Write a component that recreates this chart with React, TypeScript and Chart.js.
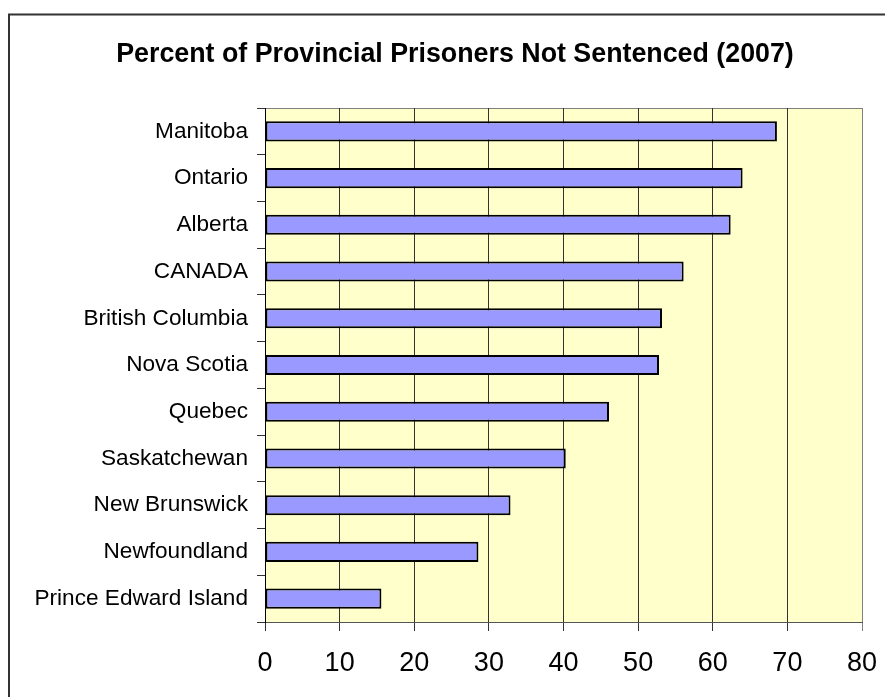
import React, { useEffect, useRef } from "react";
import { Chart, registerables } from "chart.js";

Chart.register(...registerables);

const TITLE = "Percent of Provincial Prisoners Not Sentenced (2007)";
const provinces = [
  "Manitoba",
  "Ontario",
  "Alberta",
  "CANADA",
  "British Columbia",
  "Nova Scotia",
  "Quebec",
  "Saskatchewan",
  "New Brunswick",
  "Newfoundland",
  "Prince Edward Island",
];
const percentNotSentenced = [68.6, 64.0, 62.4, 56.1, 53.2, 52.8, 46.1, 40.3, 32.9, 28.6, 15.6];
const xMin = 0;
const xMax = 80;
const xStep = 10;

const FONT = "'Liberation Sans', Arial, Helvetica, sans-serif";
const W = 877;
const H = 689;

const decorPlugin = {
  id: "decor",
  beforeDraw(chart: any) {
    const { ctx, chartArea } = chart;
    ctx.save();
    ctx.fillStyle = "#ffffff";
    ctx.fillRect(0, 0, chart.width, chart.height);
    // outer frame (left and top visible)
    ctx.strokeStyle = "#333333";
    ctx.lineWidth = 2;
    ctx.beginPath();
    ctx.moveTo(1, H + 10);
    ctx.lineTo(1, 6.5);
    ctx.lineTo(W + 10, 6.5);
    ctx.stroke();
    // plot background
    ctx.fillStyle = "#FFFFCC";
    ctx.fillRect(chartArea.left, chartArea.top, chartArea.right - chartArea.left, chartArea.bottom - chartArea.top);
    ctx.strokeStyle = "#808080";
    ctx.lineWidth = 1;
    ctx.strokeRect(chartArea.left + 0.5, chartArea.top + 0.5, chartArea.right - chartArea.left, chartArea.bottom - chartArea.top);
    ctx.restore();
  },
  afterDraw(chart: any) {
    const { ctx } = chart;
    ctx.save();
    ctx.fillStyle = "#000000";
    ctx.font = `bold 26.8px ${FONT}`;
    ctx.textAlign = "center";
    ctx.textBaseline = "alphabetic";
    ctx.fillText(TITLE, 447, 54);
    ctx.restore();
  },
};

export default function App() {
  const canvasRef = useRef<HTMLCanvasElement>(null);

  useEffect(() => {
    if (!canvasRef.current) return;
    const chart = new Chart(canvasRef.current, {
      type: "bar",
      data: {
        labels: provinces,
        datasets: [
          {
            data: percentNotSentenced,
            backgroundColor: "#9999FF",
            borderColor: "#000000",
            borderWidth: 2,
            borderSkipped: false,
            categoryPercentage: 1,
            barPercentage: 0.43,
          },
        ],
      },
      options: {
        indexAxis: "y",
        responsive: false,
        animation: false,
        events: [],
        layout: { padding: { top: 100, right: 23, left: 0, bottom: 0 } },
        plugins: {
          legend: { display: false },
          title: { display: false },
          tooltip: { enabled: false },
        },
        scales: {
          x: {
            type: "linear",
            min: xMin,
            max: xMax,
            ticks: {
              stepSize: xStep,
              color: "#000000",
              font: { family: FONT, size: 27 },
              padding: 16,
            },
            grid: {
              color: (c: any) => (c.tick && c.tick.value === xMax ? "#808080" : "#333333"),
              lineWidth: 1,
              tickLength: 9,
              drawTicks: true,
            },
            border: { display: true, color: "#555555", width: 1 },
            afterFit(scale: any) {
              scale.height = 75;
              scale.paddingLeft = 0;
              scale.paddingRight = 0;
            },
          },
          y: {
            type: "category",
            ticks: {
              color: "#000000",
              font: { family: FONT, size: 22.6 },
              padding: 9,
            },
            grid: {
              offset: true,
              drawOnChartArea: false,
              drawTicks: true,
              tickLength: 8,
              color: "#333333",
            },
            border: { display: true, color: "#000000", width: 1 },
            afterFit(scale: any) {
              scale.width = 257;
              scale.paddingTop = 0;
              scale.paddingBottom = 0;
            },
          },
        },
      },
      plugins: [decorPlugin],
    } as any);
    return () => chart.destroy();
  }, []);

  return (
    <div style={{ position: "fixed", left: 8, top: 8, width: W, height: H, overflow: "hidden" }}>
      <canvas ref={canvasRef} width={W} height={H} style={{ display: "block" }} />
    </div>
  );
}
